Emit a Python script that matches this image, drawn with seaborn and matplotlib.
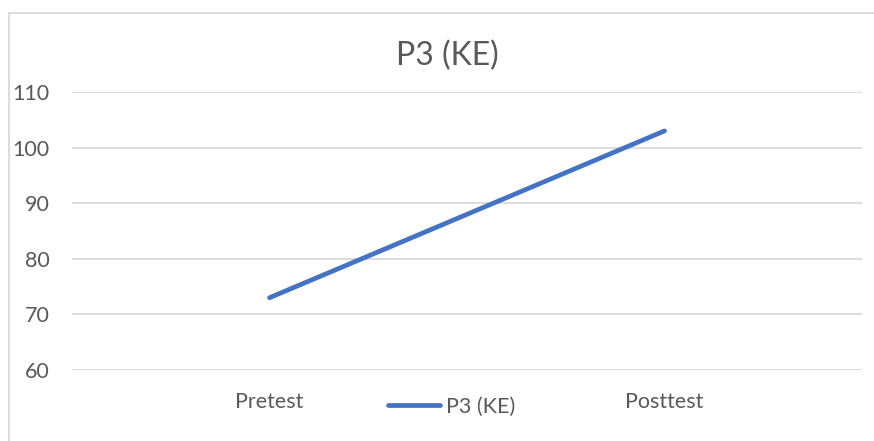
import matplotlib
matplotlib.use("Agg")
import matplotlib.pyplot as plt
import seaborn as sns
import pandas as pd
from matplotlib.patches import Rectangle

categories = ["Pretest", "Posttest"]
values = [73, 103]
series_name = "P3 (KE)"
yticks = [60, 70, 80, 90, 100, 110]

sns.set_style("white")
plt.rcParams["font.family"] = ["Lato", "DejaVu Sans"]

W, H = 874, 441
fig = plt.figure(figsize=(W / 100, H / 100), dpi=100)
ax = fig.add_axes([72 / W, 1 - 370 / H, (862 - 72) / W, (370 - 92) / H])

df = pd.DataFrame({"cat": categories, "val": values, "series": series_name})
sns.lineplot(data=df, x="cat", y="val", ax=ax, color="#4472C4", linewidth=3.4,
             label=series_name, solid_capstyle="round", legend=False)

ax.set_xlim(-0.5, len(categories) - 0.5)
ax.set_ylim(60, 110)
ax.set_yticks(yticks)
ax.grid(axis="y", color="#d9d9d9", linewidth=1.3)
ax.set_axisbelow(True)
for s in ax.spines.values():
    s.set_visible(False)
ax.set_xlabel("")
ax.set_ylabel("")
ax.tick_params(axis="y", length=0, pad=16, labelsize=15.5, labelcolor="#595959")
ax.tick_params(axis="x", length=0, pad=16, labelsize=15.5, labelcolor="#595959")

fig.text(447 / W, 1 - 56 / H, series_name, ha="center", va="center",
         fontsize=23, color="#595959")

handle = plt.Line2D([], [], color="#4472C4", linewidth=3.4, solid_capstyle="round")
fig.legend([handle], [series_name], loc="center", bbox_to_anchor=(452 / W, 1 - 407 / H),
           frameon=False, fontsize=15.5, labelcolor="#595959", handlelength=2.4,
           handletextpad=0.3)

fig.patches.append(Rectangle((9 / W, -0.1), 1.2, 1 - 13 / H + 0.1, transform=fig.transFigure,
                             fill=False, edgecolor="#d9d9d9", linewidth=1.3))

fig.savefig("out.png", dpi=100, facecolor="white")
